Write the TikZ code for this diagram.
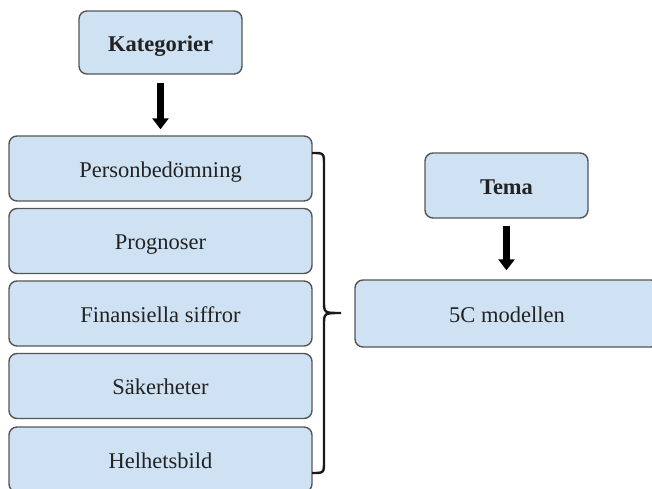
\documentclass[tikz,border=0pt]{standalone}
\usepackage{fontspec}
\setmainfont{Liberation Serif}
\usetikzlibrary{arrows.meta}
\definecolor{boxfill}{HTML}{CFE2F3}
\definecolor{boxline}{HTML}{555555}
\definecolor{txt}{HTML}{222222}
\tikzset{
  card/.style={draw=boxline, fill=boxfill, line width=1.4pt, rounded corners=8pt,
    inner sep=0pt, text=txt, text height=17pt, text depth=0pt,
    font=\fontsize{22.5}{27}\selectfont},
  flow/.style={line width=7pt, -{Triangle[width=16pt,length=11pt]}},
  bracket/.style={line width=2.4pt, draw=black!90}
}
\begin{document}
\begin{tikzpicture}[x=1pt, y=-1pt]
  \useasboundingbox (0,0) rectangle (652,488);
  \clip (0,0) rectangle (652,488);

  % left column: heading and categories
  \node[card, minimum width=163pt, minimum height=63pt, font=\fontsize{22.5}{27}\selectfont\bfseries]
    (kat) at (160.5,42.5) {Kategorier};
  \node[card, minimum width=303pt, minimum height=65pt] (c1) at (160.5,168.5) {Personbedömning};
  \node[card, minimum width=303pt, minimum height=65pt] (c2) at (160.5,241) {Prognoser};
  \node[card, minimum width=303pt, minimum height=65pt] (c3) at (160.5,313.5) {Finansiella siffror};
  \node[card, minimum width=303pt, minimum height=65pt] (c4) at (160.5,386) {Säkerheter};
  \node[card, minimum width=303pt, minimum height=65pt] (c5) at (160.5,459.5) {Helhetsbild};

  % right column: theme
  \node[card, minimum width=163pt, minimum height=65pt, font=\fontsize{22.5}{27}\selectfont\bfseries]
    (tema) at (506.5,185.5) {Tema};
  \node[card, minimum width=304pt, minimum height=67pt] (fivec) at (507,313.5) {5C modellen};

  % arrows
  \draw[flow, shorten <=8pt, shorten >=6pt] (kat.south) -- (c1.north);
  \draw[flow, shorten <=7pt, shorten >=9pt] (tema.south) -- (tema.south |- fivec.north);

  % curly bracket grouping the categories
  \coordinate (btop) at (312,153);
  \coordinate (bbot) at (312,473);
  \coordinate (btip) at (341,313);
  \draw[bracket] (btop) .. controls (324,153) .. (324,165)
    -- (324,301) .. controls (324,313) .. (btip)
    (btip) .. controls (324,313) .. (324,325)
    -- (324,461) .. controls (324,473) .. (bbot);
\end{tikzpicture}
\end{document}
